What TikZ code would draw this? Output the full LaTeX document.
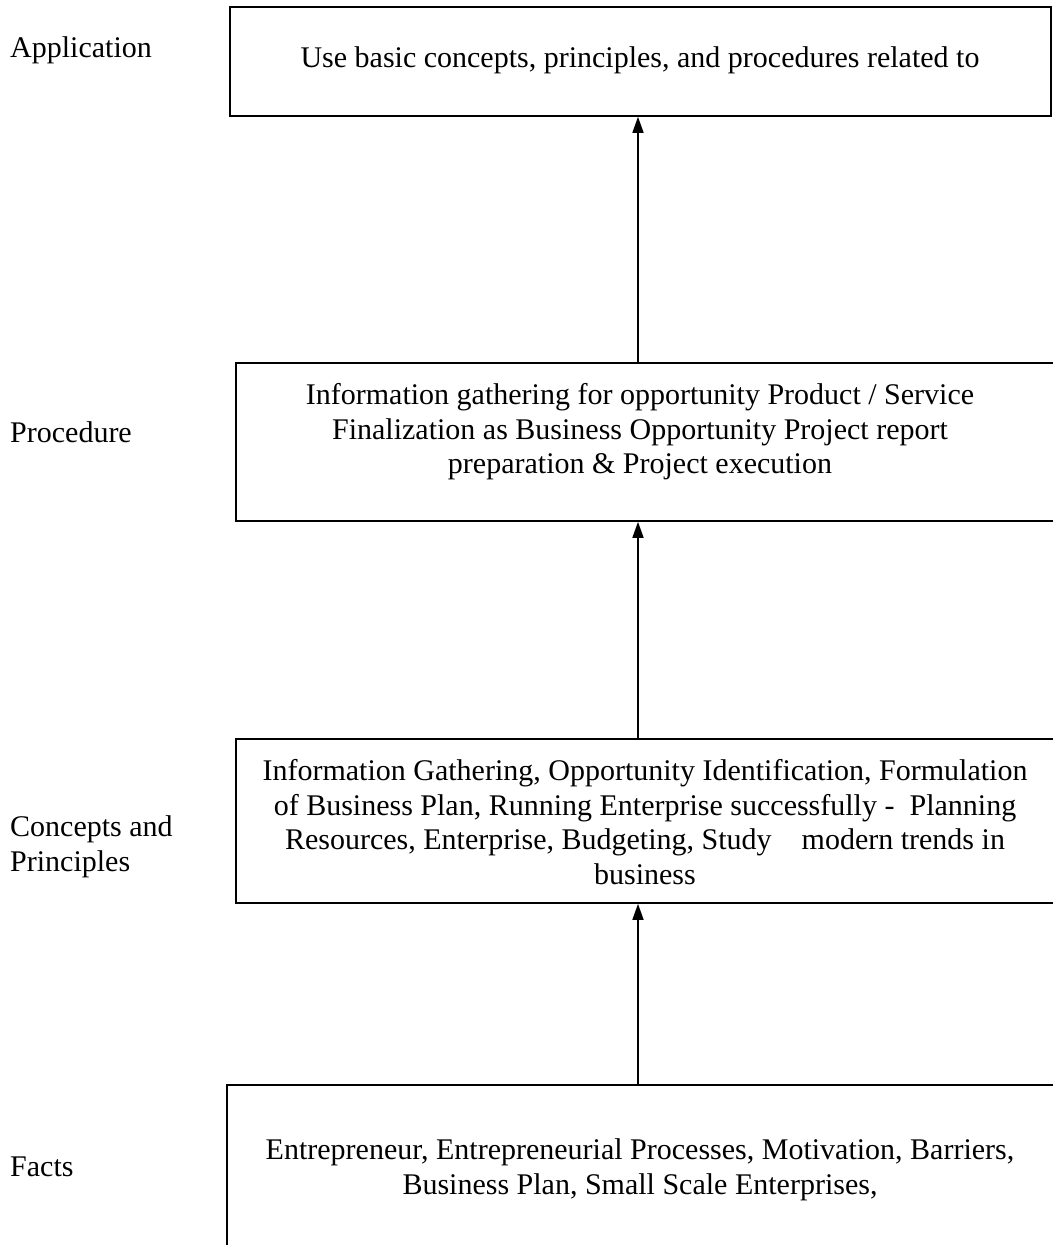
\documentclass[tikz,border=0pt]{standalone}
\usepackage{fontspec}
\setmainfont{Liberation Serif}
\usetikzlibrary{arrows.meta}
\begin{document}
\begin{tikzpicture}[x=1bp,y=-1bp,
  box/.style={draw, line width=1.8bp, rectangle, inner sep=0pt, anchor=north west},
  txt/.style={font=\fontsize{30bp}{34.5bp}\selectfont, align=center, inner sep=0pt},
  lbl/.style={font=\fontsize{30bp}{34.5bp}\selectfont, align=left, inner sep=0pt, anchor=west},
  arr/.style={line width=1.5bp, -{Triangle[length=16bp,width=11bp]}}]
\useasboundingbox (0,0) rectangle (1053,1245);
\clip (0,0) rectangle (1053,1245);
\node[box, minimum width=821bp, minimum height=109bp] (b1) at (229,6) {};
\node[box, minimum width=830bp, minimum height=158bp] (b2) at (235,362) {};
\node[box, minimum width=830bp, minimum height=164bp] (b3) at (235,738) {};
\node[box, minimum width=840bp, minimum height=180bp] (b4) at (226,1084) {};
\node[txt] (t1) at (640,60) {Use basic concepts, principles, and procedures related to};
\node[txt] (t2) at (640,432) {Information gathering for opportunity Product / Service\\Finalization as Business Opportunity Project report\\preparation \& Project execution};
\node[txt] (t3) at (645,822) {Information Gathering, Opportunity Identification, Formulation\\of Business Plan, Running Enterprise successfully -\ \ Planning\\Resources, Enterprise, Budgeting, Study\quad modern trends in\\business};
\node[txt] (t4) at (640,1170) {Entrepreneur, Entrepreneurial Processes, Motivation, Barriers,\\Business Plan, Small Scale Enterprises,};
\node[lbl] (l1) at (10,50) {Application};
\node[lbl] (l2) at (10,432) {Procedure};
\node[lbl] (l3) at (10,847) {Concepts and\\Principles};
\node[lbl] (l4) at (10,1167) {Facts};
\coordinate (ax) at (638,0);
\draw[arr] (ax |- b2.north) -- (ax |- b1.south);
\draw[arr] (ax |- b3.north) -- (ax |- b2.south);
\draw[arr] (ax |- b4.north) -- (ax |- b3.south);
\end{tikzpicture}
\end{document}
